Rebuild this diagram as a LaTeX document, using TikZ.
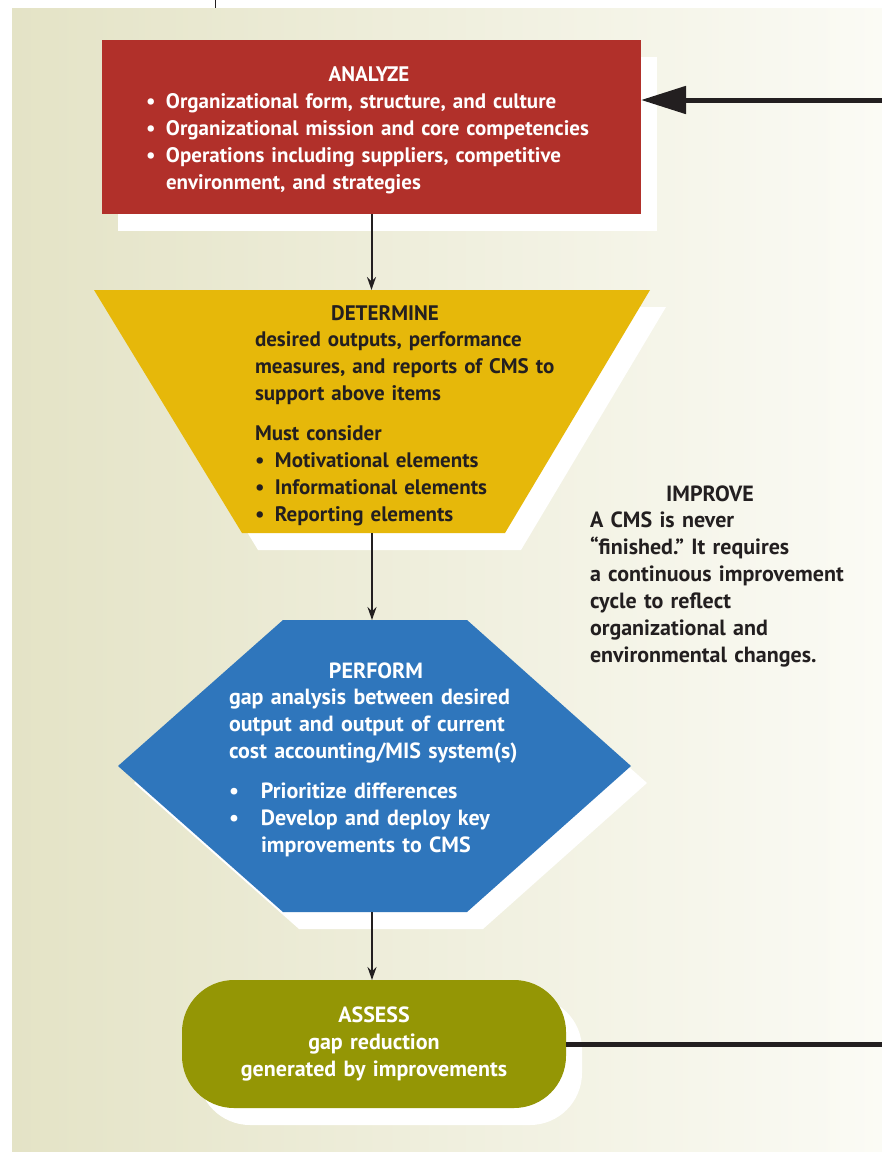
\documentclass[tikz,border=0pt]{standalone}
\usepackage{fontspec}
\setmainfont{PT Sans}
\usetikzlibrary{arrows.meta}
\definecolor{bgleft}{HTML}{E4E3C6}
\definecolor{bgright}{HTML}{FBFBF5}
\definecolor{redbox}{HTML}{B1302A}
\definecolor{yellowbox}{HTML}{E6B80A}
\definecolor{bluebox}{HTML}{2F76BC}
\definecolor{olivebox}{HTML}{949605}
\definecolor{ink}{HTML}{231F20}
\newcommand\myrect[2]{\fill[#2] (#1.north west) rectangle (#1.south east);}
\newcommand\mytrap[2]{\fill[#2] (#1.north west) -- (#1.north east) -- ([xshift=-145pt]#1.south east) -- ([xshift=148pt]#1.south west) -- cycle;}
\newcommand\myhex[2]{\fill[#2] (#1.west) -- ([xshift=165pt]#1.north west) -- ([xshift=-164pt]#1.north east) -- (#1.east) -- ([xshift=-164pt]#1.south east) -- ([xshift=165pt]#1.south west) -- cycle;}
\newcommand\myround[2]{\fill[#2,rounded corners=52pt] (#1.north west) rectangle (#1.south east);}
\begin{document}
\frenchspacing
\begin{tikzpicture}[x=1pt,y=-1pt,
  anchorbox/.style={draw=none,fill=none,inner sep=0,outer sep=0},
  txt/.style={font=\fontsize{21pt}{27pt}\selectfont\bfseries,inner sep=0,outer sep=0},
  txtb/.style={font=\fontsize{22pt}{27pt}\selectfont\bfseries,inner sep=0,outer sep=0},
  conn/.style={draw=ink,line width=2pt,-{Stealth[length=13pt,width=9pt]}},
  loop/.style={draw=ink,line width=5pt},
  shadow/.style={fill=white}]
\useasboundingbox (0,0) rectangle (882,1152);
% background panel
\shade[left color=bgleft,right color=bgright] (12,8) rectangle (882,1152);
\draw[ink,line width=1pt] (215,0) -- (215,8);

% anchor nodes (shapes and their shadows)
\node[anchorbox,minimum width=539pt,minimum height=174pt] (analyze) at (371.5,127) {};
\node[anchorbox,minimum width=539pt,minimum height=174pt] (analyzeS) at (387.5,144) {};
\node[anchorbox,minimum width=556pt,minimum height=243pt] (determine) at (372,411.5) {};
\node[anchorbox,minimum width=556pt,minimum height=243pt] (determineS) at (388,428.5) {};
\node[anchorbox,minimum width=513pt,minimum height=292pt] (perform) at (374.5,766) {};
\node[anchorbox,minimum width=513pt,minimum height=292pt] (performS) at (390.5,783) {};
\node[anchorbox,minimum width=384pt,minimum height=128pt] (assess) at (374,1044) {};
\node[anchorbox,minimum width=384pt,minimum height=128pt] (assessS) at (390,1061) {};
\coordinate (loopA) at (882,100);
\coordinate (loopB) at (882,1046);

% shadows
\myrect{analyzeS}{shadow}
\mytrap{determineS}{shadow}
\myhex{performS}{shadow}
\myround{assessS}{shadow}

% shapes
\myrect{analyze}{redbox}
\mytrap{determine}{yellowbox}
\myhex{perform}{bluebox}
\myround{assess}{olivebox}

% connectors
\draw[conn] (analyze.south) -- (analyze.south |- determine.north);
\draw[conn] (determine.south) -- (determine.south |- perform.north);
\draw[conn] (perform.south -| determine.south) -- (determine.south |- assess.north);
\draw[loop,-{Triangle[length=45pt,width=27pt]}] (loopA) -- (analyze.east |- loopA);
\draw[loop] (assess.east) -- (assess.east -| loopB);

% texts
\node[txt,white,anchor=base] (analyzeH) at (369,81) {ANALYZE};
\node[txt,white,anchor=base west,text width=480pt,align=left] (analyzeT) at (146,108)
 {\makebox[20pt][l]{•}Organizational form, structure, and culture\\
  \makebox[20pt][l]{•}Organizational mission and core competencies\\
  \makebox[20pt][l]{•}Operations including suppliers, competitive\\
  \hspace*{20pt}environment, and strategies};

\node[txt,ink,anchor=base] (determineH) at (385,320) {DETERMINE};
\node[txt,ink,anchor=base west,text width=330pt,align=left] (determineT) at (255,346)
 {desired outputs, performance\\ measures, and reports of CMS to\\ support above items};
\node[txt,ink,anchor=base west,text width=330pt,align=left] (determineB) at (255,440)
 {Must consider\\
  \makebox[20pt][l]{•}Motivational elements\\
  \makebox[20pt][l]{•}Informational elements\\
  \makebox[20pt][l]{•}Reporting elements};

\node[txtb,white,anchor=base] (performH) at (376,678) {PERFORM};
\node[txtb,white,anchor=base west,text width=330pt,align=left] (performT) at (229,704)
 {gap analysis between desired\\ output and output of current\\ cost accounting/MIS system(s)};
\node[txtb,white,anchor=base west,text width=330pt,align=left] (performB) at (229,798)
 {\makebox[32pt][l]{•}Prioritize differences\\
  \makebox[32pt][l]{•}Develop and deploy key\\
  \hspace*{32pt}improvements to CMS};

\node[txtb,white,anchor=base,text width=330pt,align=center] (assessT) at (374,1022)
 {ASSESS\\ gap reduction\\ generated by improvements};

\node[txtb,ink,anchor=base] (improveH) at (710,501) {IMPROVE};
\node[txtb,ink,anchor=base west,text width=290pt,align=left] (improveT) at (590,527)
 {A CMS is never\\ “finished.” It requires\\ a continuous improvement\\ cycle to reflect\\ organizational and\\ environmental changes.};
\end{tikzpicture}
\end{document}
